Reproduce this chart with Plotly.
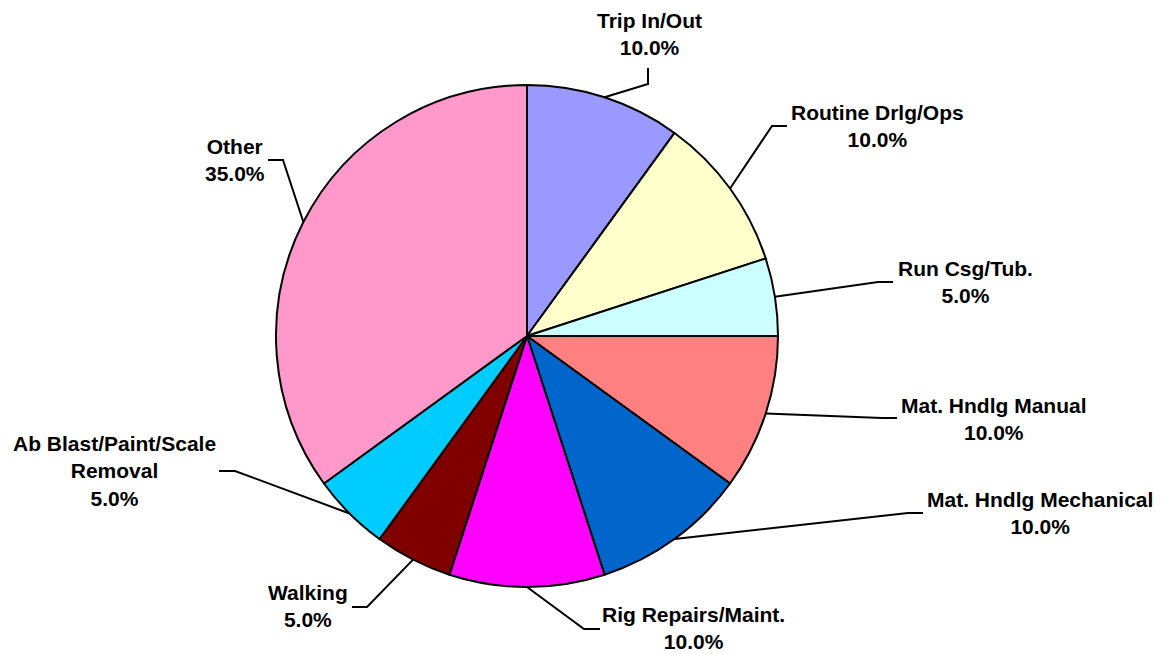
import math
import plotly.graph_objects as go

# ---- data ----
categories = ["Trip In/Out", "Routine Drlg/Ops", "Run Csg/Tub.", "Mat. Hndlg Manual",
              "Mat. Hndlg Mechanical", "Rig Repairs/Maint.", "Walking",
              "Ab Blast/Paint/Scale<br>Removal", "Other"]
values = [10, 10, 5, 10, 10, 10, 5, 5, 35]
colors = ["#9999FF", "#FFFFCC", "#CCFFFF", "#FF8080", "#0066CC",
          "#FF00FF", "#800000", "#00CCFF", "#FF99CC"]

# ---- layout (pixels in the screenshot) ----
W, H = 1170, 654
PAGE_MARGIN = 8  # default body margin of the html page
CX, CY, R = 527, 336, 251
# label centre (x, y of block centre), elbow point, tail end point
label_pos = [(649, 34), (877, 126), (965, 282), (994, 419), (1040, 513),
             (693, 628), (308, 606), (114, 471), (235, 160)]
elbows = [(648, 84), (772, 126), (878, 282), (882, 418), (908, 513),
          (584, 629), (367, 607), (235, 471), (283, 160)]
tails = [(648, 68), (787, 126), (893, 282), (897, 418), (923, 513),
         (600, 629), (352, 607), (219, 471), (268, 160)]

def px(x):
    return (x - PAGE_MARGIN) / W

def py(y):
    return 1 - (y - PAGE_MARGIN) / H

fig = go.Figure(go.Pie(
    labels=categories, values=values, sort=False, direction="clockwise",
    rotation=0, textinfo="none", hoverinfo="label+percent",
    marker=dict(colors=colors, line=dict(color="black", width=2)),
    domain=dict(x=[px(CX - R), px(CX + R)], y=[py(CY + R), py(CY - R)]),
    showlegend=False,
))

total = sum(values)
cum = 0
shapes = []
annotations = []
for i, v in enumerate(values):
    mid = (cum + v / 2) / total * 2 * math.pi
    cum += v
    ax = CX + R * math.sin(mid)
    ay = CY - R * math.cos(mid)
    ex, ey = elbows[i]
    tx, ty = tails[i]
    path = f"M {px(ax)} {py(ay)} L {px(ex)} {py(ey)} L {px(tx)} {py(ty)}"
    shapes.append(dict(type="path", xref="paper", yref="paper", path=path,
                       line=dict(color="black", width=2)))
    lx, ly = label_pos[i]
    pct = v / total * 100
    annotations.append(dict(
        x=px(lx), y=py(ly), xref="paper", yref="paper",
        xanchor="center", yanchor="middle", showarrow=False, align="center",
        text=f"<b>{categories[i]}<br>{pct:.1f}%</b>",
        font=dict(family="Liberation Sans, Arial, sans-serif", size=21, color="black"),
    ))

fig.update_layout(
    width=W, height=H, margin=dict(l=0, r=0, t=0, b=0),
    paper_bgcolor="white", plot_bgcolor="white",
    shapes=shapes, annotations=annotations,
)

fig.write_html("out.html")
